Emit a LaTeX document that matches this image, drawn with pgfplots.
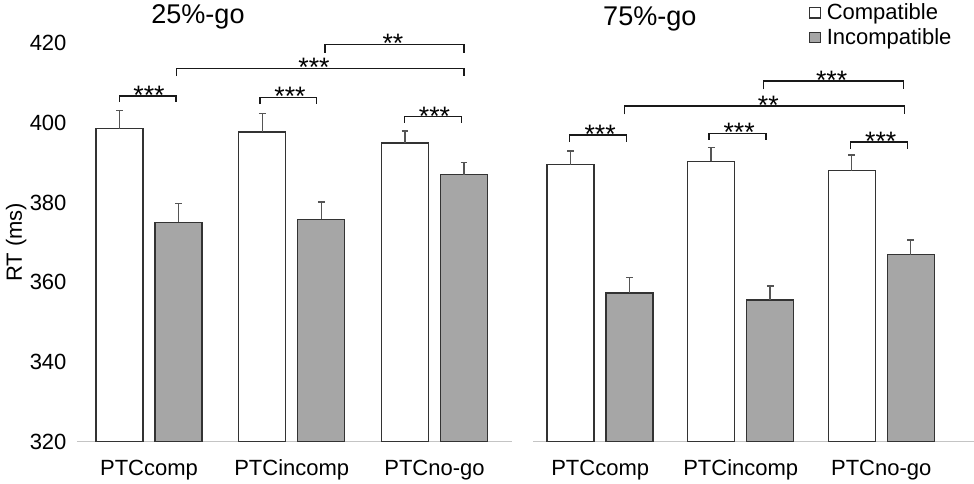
\documentclass[border=0pt]{standalone}
\usepackage{fontspec}
\setmainfont{Liberation Sans}
\usepackage{pgfplots}
\usepackage{pgfplotstable}
\pgfplotsset{compat=1.18}
\newcommand{\fsz}{\fontsize{16.5}{19.8}\selectfont}
\newcommand{\fst}{\fontsize{20}{24}\selectfont}
\newcommand{\fti}{\fontsize{20.3}{24}\selectfont}
\definecolor{barGray}{HTML}{A6A6A6}
\definecolor{barEdge}{HTML}{333333}
\definecolor{errCol}{HTML}{555555}
\definecolor{axCol}{HTML}{C4C4C4}

\pgfplotstableread{
x c ce i ie
0 398.5 4.6 375.0 4.7
1 397.7 4.6 375.8 4.3
2 394.9 3.0 387.0 3.0
}\leftdata
\pgfplotstableread{
x c ce i ie
0 389.5 3.4 357.3 3.9
1 390.3 3.5 355.6 3.4
2 388.0 3.9 366.9 3.7
}\rightdata

\tikzset{
  bracket/.style={draw=black!90, line width=1pt},
  star/.style={anchor=base, inner sep=0pt, font=\fst},
}
\pgfplotsset{
  mybar/.style={
    scale only axis, anchor=south west,
    height=299.0pt, ymin=320, ymax=420,
    ybar=9pt, bar width=35.25pt,
    axis x line*=bottom, axis y line*=left, separate axis lines,
    x axis line style={-, draw=axCol, line width=1.1pt},
    y axis line style={draw=none},
    tick style={draw=none},
    xtick={0,1,2}, xticklabels={PTCcomp,PTCincomp,PTCno-go},
    xticklabel style={inner sep=0pt, anchor=north, yshift=-9pt},
    tick label style={font=\fsz},
    /pgf/number format/assume math mode=true,
    clip=false,
    title style={font=\fti, anchor=south, inner sep=0pt, yshift=0pt},
  },
  errstyle/.style={
    error bars/y dir=plus, error bars/y explicit,
    error bars/error bar style={line width=1.1pt, draw=errCol},
    error bars/error mark options={rotate=90, mark size=2.6pt, line width=1.1pt, draw=errCol}},
  compbar/.style={fill=white, draw=barEdge, line width=1.1pt, errstyle},
  incbar/.style={fill=barGray, draw=barEdge, line width=1.1pt, errstyle},
}

\begin{document}
\begin{tikzpicture}
\path[use as bounding box] (0pt,0pt) rectangle (730.5pt,363pt);

% ---------------- left panel: 25%-go
\begin{axis}[mybar, at={(57.75pt,31.725pt)}, width=326.25pt,
  xmin=-0.5044, xmax=2.543,
  ytick={320,340,360,380,400,420},
  yticklabel style={inner sep=0pt, anchor=east, xshift=-7.7pt},
  ylabel={RT (ms)},
  every axis y label/.style={at={(axis description cs:-0.140,0.5)}, rotate=90, anchor=center, font=\fsz},
  title={25\%-go},
  title style={at={(axis description cs:0.278,1.0138)}},
]
\addplot[compbar] table[x=x, y=c, y error=ce] {\leftdata};
\addplot[incbar] table[x=x, y=i, y error=ie] {\leftdata};
% significance brackets
\draw[bracket] (axis cs:-0.208,405.3) -- (axis cs:-0.208,406.7) -- (axis cs:0.189,406.7) -- (axis cs:0.189,405.3);
\node[star] at (axis cs:0.0,404.6) {***};
\draw[bracket] (axis cs:0.778,404.7) -- (axis cs:0.778,406.4) -- (axis cs:1.175,406.4) -- (axis cs:1.175,404.7);
\node[star] at (axis cs:0.988,404.3) {***};
\draw[bracket] (axis cs:1.788,400.0) -- (axis cs:1.788,401.5) -- (axis cs:2.191,401.5) -- (axis cs:2.191,400.0);
\node[star] at (axis cs:2.0,399.4) {***};
\draw[bracket] (axis cs:0.194,411.7) -- (axis cs:0.194,413.65) -- (axis cs:2.207,413.65) -- (axis cs:2.207,411.7);
\node[star] at (axis cs:1.156,411.6) {***};
\draw[bracket] (axis cs:1.233,417.6) -- (axis cs:1.233,419.7) -- (axis cs:2.207,419.7) -- (axis cs:2.207,417.6);
\node[star] at (axis cs:1.709,417.6) {**};
\end{axis}

% ---------------- right panel: 75%-go
\begin{axis}[mybar, at={(399.75pt,31.725pt)}, width=330.75pt,
  xmin=-0.478, xmax=2.66,
  ytick=\empty,
  title={75\%-go},
  title style={at={(axis description cs:0.265,1.010)}},
  legend style={draw=none, fill=none, at={(axis description cs:0.6265,1.099)}, anchor=north west,
    inner sep=0pt, outer sep=0pt, font=\fsz, row sep=5pt,
    nodes={inner sep=0pt}, column sep=4.5pt},
  legend cell align=left,
]
\addplot[legend image code/.code={\draw[fill=white, draw=barEdge, line width=0.8pt] (0pt,-4.1pt) rectangle (7.8pt,3.7pt);}, compbar] table[x=x, y=c, y error=ce] {\rightdata};
\addlegendentry{Compatible}
\addplot[legend image code/.code={\draw[fill=barGray, draw=barEdge, line width=0.8pt] (0pt,-4.1pt) rectangle (7.8pt,3.7pt);}, incbar] table[x=x, y=i, y error=ie] {\rightdata};
\addlegendentry{Incompatible}
% significance brackets
\draw[bracket] (axis cs:-0.220,395.2) -- (axis cs:-0.220,396.9) -- (axis cs:0.189,396.9) -- (axis cs:0.189,395.2);
\node[star] at (axis cs:0.0,394.8) {***};
\draw[bracket] (axis cs:0.774,395.7) -- (axis cs:0.774,397.35) -- (axis cs:1.180,397.35) -- (axis cs:1.180,395.7);
\node[star] at (axis cs:0.989,395.3) {***};
\draw[bracket] (axis cs:1.782,393.5) -- (axis cs:1.782,395.2) -- (axis cs:2.188,395.2) -- (axis cs:2.188,393.5);
\node[star] at (axis cs:1.996,393.1) {***};
\draw[bracket] (axis cs:0.171,402.1) -- (axis cs:0.171,404.2) -- (axis cs:2.164,404.2) -- (axis cs:2.164,402.1);
\node[star] at (axis cs:1.196,402.1) {**};
\draw[bracket] (axis cs:1.160,408.4) -- (axis cs:1.160,410.5) -- (axis cs:2.157,410.5) -- (axis cs:2.157,408.4);
\node[star] at (axis cs:1.647,408.4) {***};
\end{axis}
\end{tikzpicture}
\end{document}
